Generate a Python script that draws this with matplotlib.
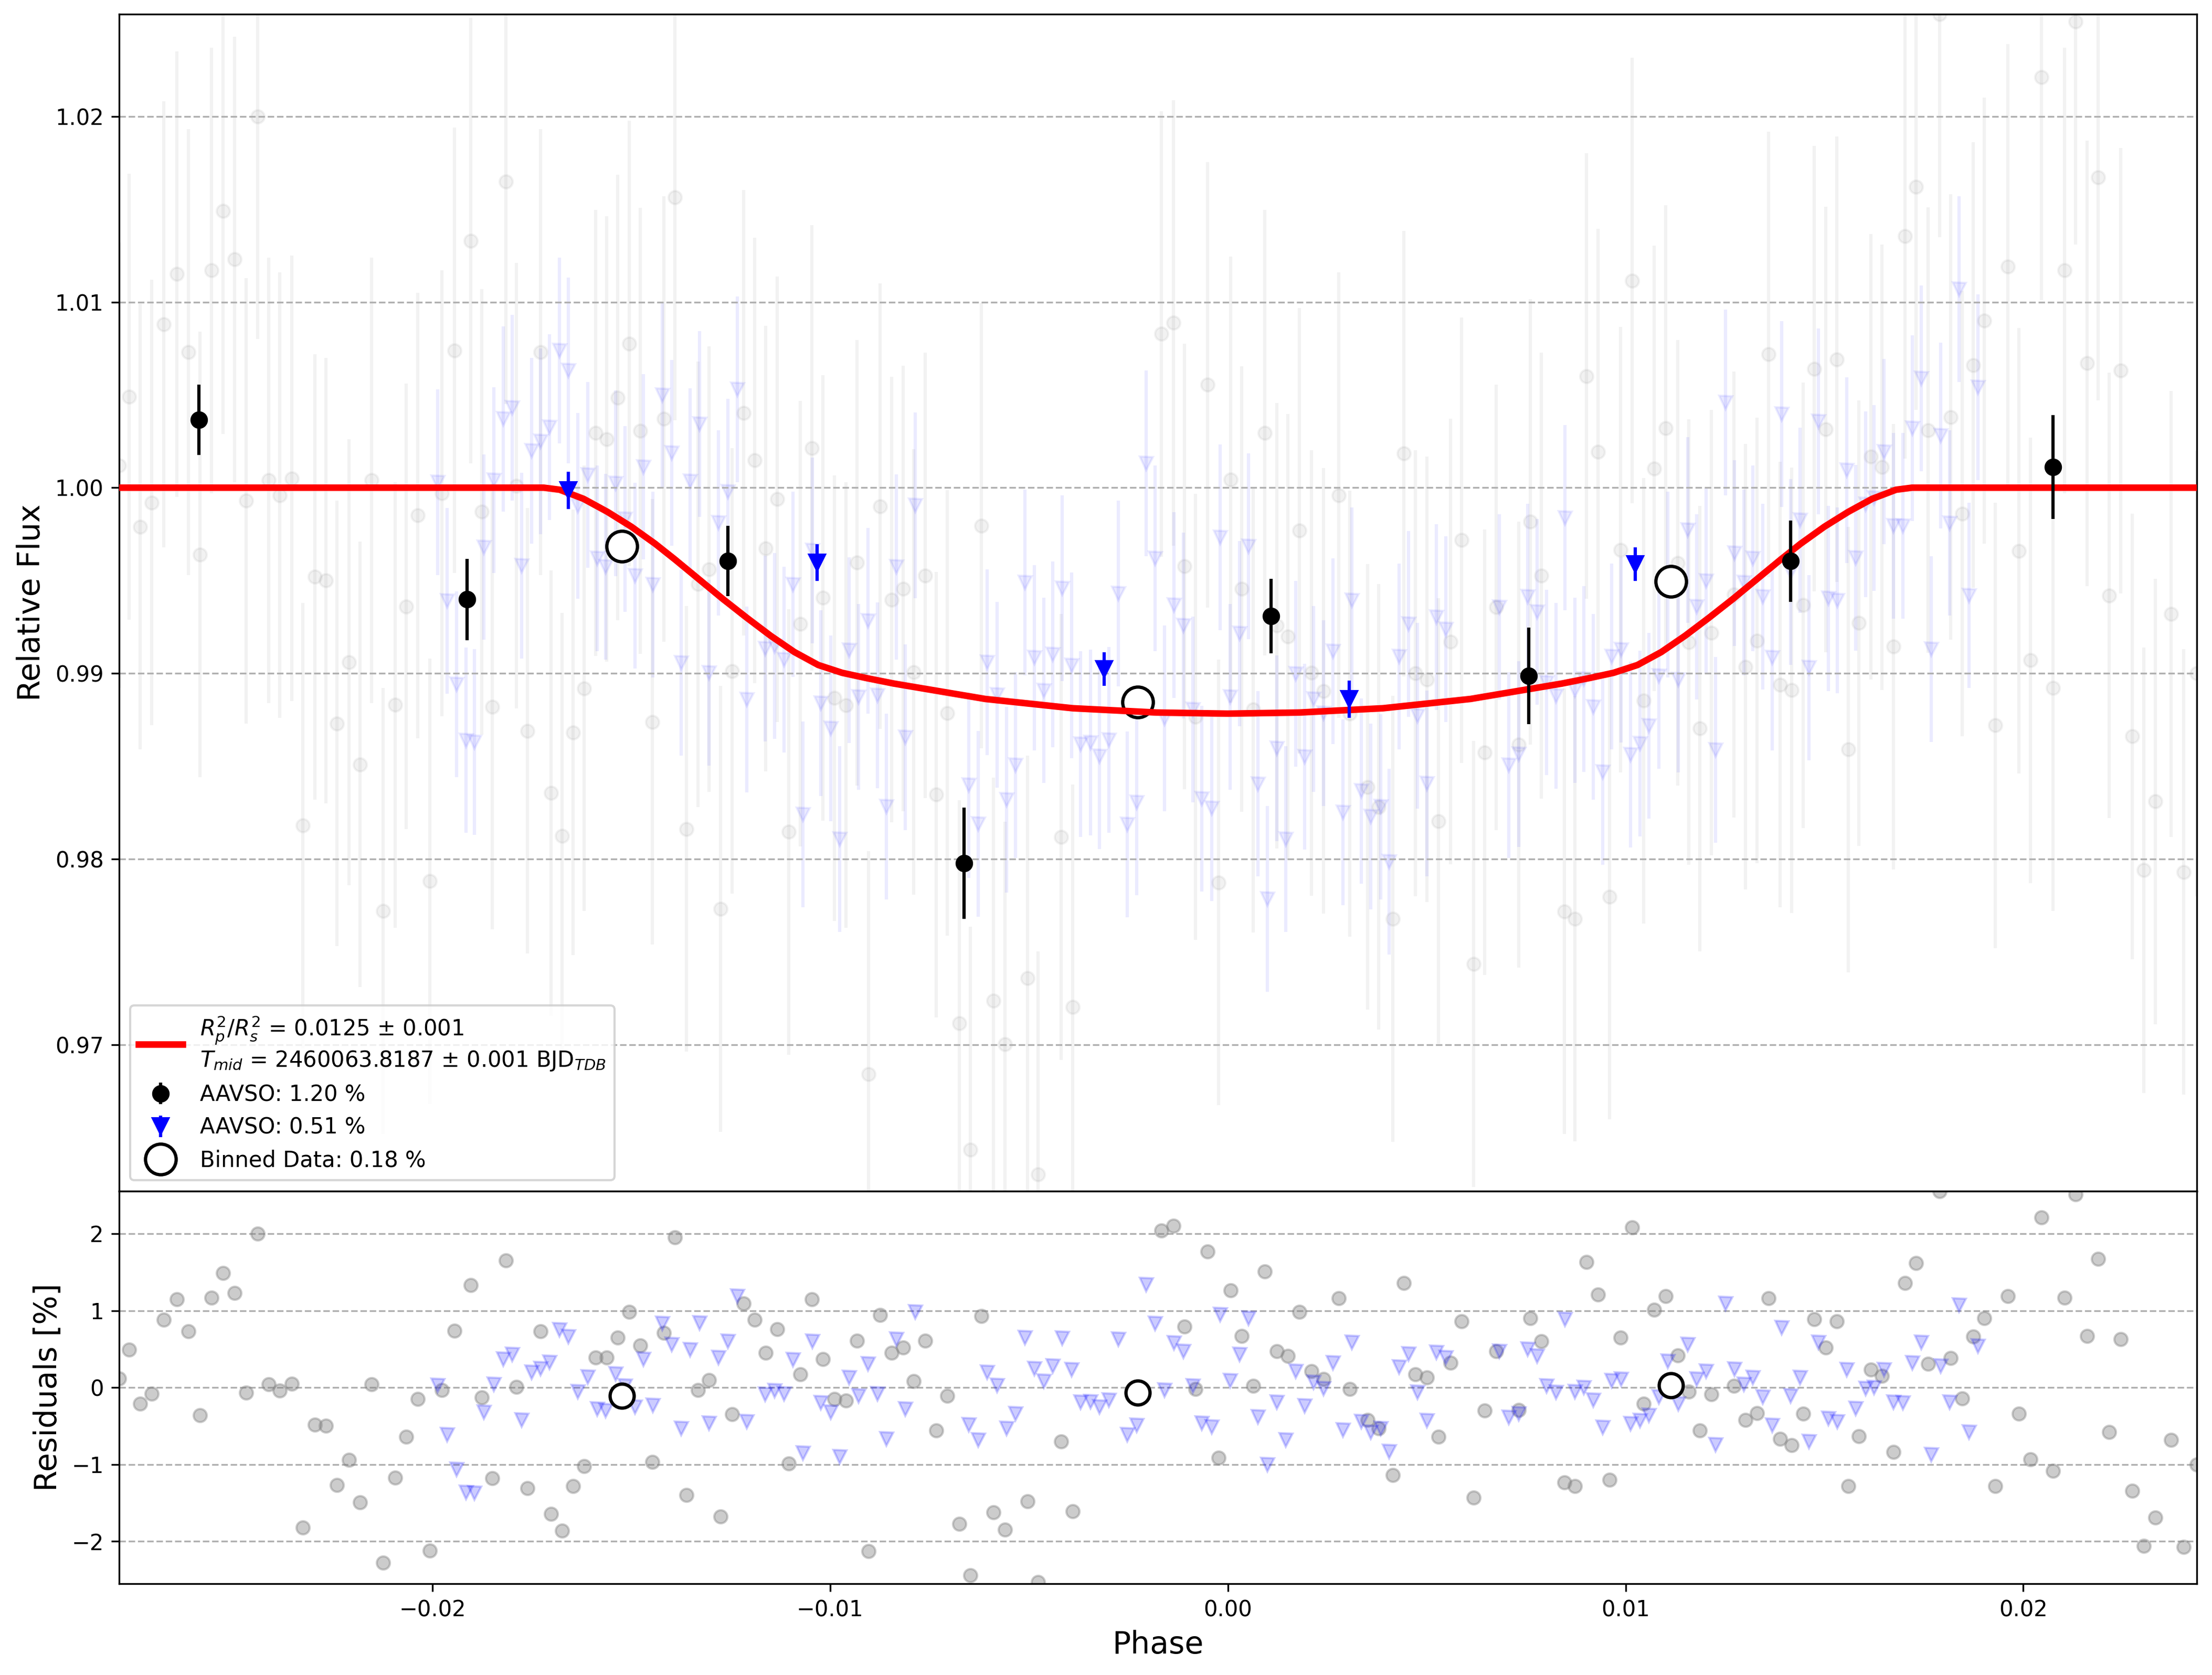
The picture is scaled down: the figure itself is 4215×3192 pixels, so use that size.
import matplotlib
matplotlib.use("Agg")
import matplotlib.pyplot as plt
import numpy as np

# transit model (phase, relative flux)
model_phase = [-0.0300, -0.0172, -0.0168, -0.0162, -0.0156, -0.0150, -0.0144, -0.0139, -0.0133,
               -0.0127, -0.0121, -0.0115, -0.0109, -0.0103, -0.0097, -0.0091, -0.0084,
               -0.0061, -0.0039, -0.0018, 0.0,
               0.0018, 0.0039, 0.0061,
               0.0084, 0.0091, 0.0097, 0.0103, 0.0109, 0.0115, 0.0121, 0.0127, 0.0133,
               0.0139, 0.0144, 0.0150, 0.0156, 0.0162, 0.0168, 0.0172, 0.0300]
model_flux = [1.0, 1.0, 0.99989, 0.99940, 0.99870, 0.99790, 0.99698, 0.99613, 0.99507,
              0.99401, 0.99300, 0.99203, 0.99115, 0.99045, 0.99003, 0.98975, 0.98945,
              0.98862, 0.98812, 0.98789, 0.98783,
              0.98789, 0.98812, 0.98862,
              0.98945, 0.98975, 0.99003, 0.99045, 0.99115, 0.99203, 0.99300, 0.99401, 0.99507,
              0.99613, 0.99698, 0.99790, 0.99870, 0.99940, 0.99989, 1.0, 1.0]

# AAVSO 1.20 % raw points: phase and residual [%]
grey_phase = [
    -0.02788, -0.02763, -0.02735, -0.02706, -0.02676, -0.02643, -0.02613, -0.02584, -0.02555, -0.02527,
    -0.02497, -0.02469, -0.02440, -0.02411, -0.02384, -0.02354, -0.02326, -0.02296, -0.02268, -0.02240,
    -0.02210, -0.02182, -0.02153, -0.02124, -0.02094, -0.02066, -0.02037, -0.02006, -0.01976, -0.01945,
    -0.01903, -0.01876, -0.01849, -0.01815, -0.01789, -0.01761, -0.01728, -0.01702, -0.01674, -0.01647,
    -0.01619, -0.01590, -0.01562, -0.01534, -0.01505, -0.01478,
    -0.01447, -0.01418, -0.01390, -0.01361, -0.01332, -0.01304, -0.01276, -0.01247, -0.01218, -0.01190,
    -0.01162, -0.01133, -0.01104, -0.01075, -0.01046, -0.01018, -0.00989, -0.00960, -0.00933, -0.00904,
    -0.00875, -0.00846, -0.00817, -0.00790, -0.00761, -0.00733, -0.00705, -0.00675, -0.00647, -0.00620,
    -0.00589, -0.00561, -0.00504, -0.00477, -0.00419, -0.00390,
    -0.00167, -0.00137, -0.00109, -0.00081, -0.00051, -0.00023, 0.00007, 0.00035, 0.00064, 0.00093,
    0.00123, 0.00151, 0.00180, 0.00210, 0.00240, 0.00279, 0.00307, 0.00351, 0.00379, 0.00415,
    0.00443, 0.00471, 0.00501, 0.00530, 0.00560, 0.00588, 0.00618, 0.00646, 0.00675, 0.00732,
    0.00761, 0.00788, 0.00846, 0.00873, 0.00901, 0.00930, 0.00959, 0.00987, 0.01016, 0.01045,
    0.01072, 0.01101,
    0.01131, 0.01159, 0.01187, 0.01215, 0.01272, 0.01301, 0.01330, 0.01359, 0.01388, 0.01417,
    0.01446, 0.01474, 0.01503, 0.01531, 0.01560, 0.01587, 0.01617, 0.01645, 0.01674, 0.01702,
    0.01730, 0.01760, 0.01789, 0.01817, 0.01846, 0.01874, 0.01902, 0.01930, 0.01961, 0.01989,
    0.02018, 0.02046, 0.02074, 0.02103, 0.02131, 0.02160, 0.02188, 0.02216, 0.02245, 0.02274,
    0.02303, 0.02332, 0.02371, 0.02403, 0.02436]
grey_resid = [
    0.12, 0.49, -0.21, -0.08, 0.88, 1.15, 0.73, -0.36, 1.17, 1.49,
    1.23, -0.07, 2.00, 0.04, -0.04, 0.05, -1.82, -0.48, -0.50, -1.27,
    -0.94, -1.49, 0.04, -2.28, -1.17, -0.64, -0.15, -2.12, -0.03, 0.74,
    1.33, -0.13, -1.18, 1.65, 0.01, -1.31, 0.73, -1.64, -1.86, -1.28,
    -1.02, 0.39, 0.39, 0.65, 0.98, 0.55,
    -0.97, 0.71, 1.95, -1.40, -0.03, 0.10, -1.68, -0.35, 1.09, 0.88,
    0.45, 0.76, -0.99, 0.17, 1.15, 0.37, -0.15, -0.17, 0.61, -2.13,
    0.94, 0.45, 0.52, 0.08, 0.61, -0.56, -0.11, -1.77, -2.44, 0.93,
    -1.62, -1.85, -1.48, -2.53, -0.70, -1.61,
    2.04, 2.10, 0.79, -0.02, 1.77, -0.91, 1.26, 0.67, 0.02, 1.51,
    0.47, 0.41, 0.98, 0.21, 0.11, 1.16, -0.02, -0.42, -0.53, -1.14,
    1.36, 0.17, 0.13, -0.64, 0.32, 0.86, -1.43, -0.30, 0.47, -0.29,
    0.90, 0.60, -1.23, -1.28, 1.63, 1.21, -1.20, 0.65, 2.08, -0.21,
    1.01, 1.19,
    0.42, -0.05, -0.56, -0.09, 0.02, -0.42, -0.33, 1.16, -0.67, -0.75,
    -0.34, 0.89, 0.52, 0.86, -1.28, -0.63, 0.23, 0.15, -0.84, 1.36,
    1.62, 0.31, 2.55, 0.38, -0.14, 0.66, 0.90, -1.28, 1.19, -0.34,
    -0.93, 2.21, -1.08, 1.17, 2.51, 0.67, 1.67, -0.58, 0.63, -1.34,
    -2.06, -1.69, -0.68, -2.07, -1.00]
grey_err = 0.012

# AAVSO 0.51 % raw points: phase and residual [%]
blue_phase = [
    -0.01987, -0.01963, -0.01939, -0.01915, -0.01894, -0.01870, -0.01846, -0.01822, -0.01800, -0.01775,
    -0.01751, -0.01728, -0.01706, -0.01680, -0.01658, -0.01634, -0.01610, -0.01586, -0.01564, -0.01540,
    -0.01516, -0.01491, -0.01469, -0.01446, -0.01422, -0.01398, -0.01375, -0.01352, -0.01328, -0.01305,
    -0.01281, -0.01257, -0.01234, -0.01210, -0.01163, -0.01140, -0.01116, -0.01093, -0.01069, -0.01045,
    -0.01023, -0.00999, -0.00976, -0.00952, -0.00928, -0.00905, -0.00881, -0.00858, -0.00834, -0.00811,
    -0.00786, -0.00652, -0.00628, -0.00605, -0.00580, -0.00557, -0.00534, -0.00510, -0.00487, -0.00463,
    -0.00440, -0.00417, -0.00393, -0.00370, -0.00346, -0.00323, -0.00299, -0.00276, -0.00253, -0.00229,
    -0.00206, -0.00183, -0.00159, -0.00135, -0.00112, -0.00088, -0.00065, -0.00041, -0.00019, 0.00005,
    0.00029, 0.00052, 0.00076, 0.00099, 0.00123, 0.00146, 0.00170, 0.00193, 0.00216, 0.00241,
    0.00264, 0.00289, 0.00312, 0.00336, 0.00359, 0.00384, 0.00406, 0.00430, 0.00454, 0.00477,
    0.00501, 0.00524, 0.00548, 0.00682, 0.00706, 0.00731, 0.00754, 0.00777, 0.00801, 0.00825,
    0.00848, 0.00872, 0.00895, 0.00919, 0.00942, 0.00965, 0.00989, 0.01013, 0.01036, 0.01059,
    0.01083, 0.01106, 0.01132, 0.01156, 0.01178, 0.01202, 0.01226, 0.01251, 0.01274, 0.01298,
    0.01320, 0.01345, 0.01368, 0.01392, 0.01415, 0.01438, 0.01461, 0.01485, 0.01510, 0.01532,
    0.01556, 0.01579, 0.01603, 0.01625, 0.01650, 0.01674, 0.01697, 0.01721, 0.01744, 0.01768,
    0.01792, 0.01815, 0.01839, 0.01863, 0.01886]
blue_resid = [
    0.03, -0.61, -1.06, -1.36, -1.37, -0.32, 0.04, 0.37, 0.43, -0.42,
    0.20, 0.25, 0.33, 0.75, 0.66, -0.05, 0.14, -0.28, -0.30, 0.18,
    0.02, -0.25, 0.37, -0.23, 0.83, 0.56, -0.53, 0.49, 0.84, -0.46,
    0.39, 0.60, 1.19, -0.44, -0.09, -0.04, -0.08, 0.36, -0.85, 0.60,
    -0.20, -0.32, -0.90, 0.13, -0.11, 0.31, -0.08, -0.67, 0.63, -0.28,
    0.98, -0.48, -0.68, 0.20, 0.03, -0.53, -0.34, 0.65, 0.25, 0.08,
    0.28, 0.64, 0.23, -0.19, -0.18, -0.25, -0.16, 0.63, -0.61, -0.49,
    1.34, 0.83, -0.03, 0.58, 0.47, 0.02, -0.46, -0.51, 0.95, 0.09,
    0.43, 0.90, -0.38, -1.00, -0.19, -0.68, 0.21, -0.24, 0.07, -0.01,
    0.32, -0.55, 0.59, -0.44, -0.58, -0.53, -0.83, 0.27, 0.44, -0.06,
    -0.43, 0.46, 0.39, 0.47, -0.39, -0.34, 0.50, 0.41, 0.02, -0.06,
    0.89, -0.05, 0.00, -0.16, -0.52, 0.09, 0.11, -0.47, -0.43, -0.36,
    -0.12, 0.34, -0.21, 0.56, 0.11, 0.21, -0.74, 1.09, 0.24, 0.04,
    0.13, -0.12, -0.49, 0.78, -0.11, 0.13, -0.70, 0.59, -0.40, -0.44,
    0.23, -0.27, -0.01, 0.00, 0.23, -0.19, -0.20, 0.32, 0.59, -0.87,
    0.28, -0.19, 1.07, -0.58, 0.54]
blue_err = 0.005

# binned points of each dataset
bin1_phase = [-0.02587, -0.01913, -0.01257, -0.00663, 0.00108, 0.00757, 0.01415, 0.02075]
bin1_flux = [1.00366, 0.99398, 0.99605, 0.97977, 0.99308, 0.98986, 0.99604, 1.00112]
bin1_err = [0.0019, 0.0022, 0.0019, 0.0030, 0.0020, 0.0026, 0.0022, 0.0028]

bin2_phase = [-0.01658, -0.01033, -0.00311, 0.00305, 0.01024]
bin2_flux = [0.99986, 0.99597, 0.99023, 0.98861, 0.99588]
bin2_err = [0.0010, 0.0010, 0.0009, 0.0010, 0.0009]

# combined binned data
binall_phase = [-0.01523, -0.00226, 0.01114]
binall_flux = [0.99684, 0.98845, 0.99496]
binall_resid = [-0.11, -0.07, 0.03]

model_label = (r'$R^{2}_{p}/R^{2}_{s}$ = 0.0125 $\pm$ 0.001' + '\n'
               + r'$T_{mid}$ = 2460063.8187 $\pm$ 0.001 BJD$_{TDB}$')

# raw fluxes = model + residuals
grey_flux = np.interp(grey_phase, model_phase, model_flux) + np.array(grey_resid) / 100
blue_flux = np.interp(blue_phase, model_phase, model_flux) + np.array(blue_resid) / 100

fig = plt.figure(figsize=(14.05, 10.64), dpi=300)
gs = fig.add_gridspec(2, 1, height_ratios=[3, 1], hspace=0,
                      left=0.0538, right=0.9931, top=0.9915, bottom=0.0545)
ax = fig.add_subplot(gs[0])
axr = fig.add_subplot(gs[1], sharex=ax)

# top panel
ax.errorbar(grey_phase, grey_flux, yerr=grey_err, fmt='o', color='gray', alpha=0.1, zorder=1)
ax.errorbar(blue_phase, blue_flux, yerr=blue_err, fmt='v', color='blue', alpha=0.08, zorder=1)
ax.plot(model_phase, model_flux, color='red', lw=3, zorder=4, label=model_label)
ax.errorbar(bin1_phase, bin1_flux, yerr=bin1_err, fmt='o', color='black', ms=7, zorder=5,
            label='AAVSO: 1.20 %')
ax.errorbar(bin2_phase, bin2_flux, yerr=bin2_err, fmt='v', color='blue', ms=7, zorder=5,
            label='AAVSO: 0.51 %')
ax.errorbar(binall_phase, binall_flux, fmt='o', ms=14, mfc='white', mec='black', mew=1.5,
            zorder=3, label='Binned Data: 0.18 %')
ax.set_ylim(0.9621, 1.0255)
ax.set_ylabel('Relative Flux', fontsize=14)
ax.grid(True, axis='y', ls='--')
ax.legend(loc='lower left', fontsize=10)
plt.setp(ax.get_xticklabels(), visible=False)

# residual panel
axr.plot(grey_phase, grey_resid, 'o', color='gray', alpha=0.4, zorder=2)
axr.plot(blue_phase, blue_resid, 'v', color='blue', alpha=0.2, zorder=2)
axr.plot(binall_phase, binall_resid, 'o', ms=11, mfc='white', mec='black', mew=1.5, zorder=3)
axr.set_ylim(-2.55, 2.55)
axr.set_xlim(-0.02788, 0.02436)
axr.grid(True, axis='y', ls='--')
axr.set_ylabel('Residuals [%]', fontsize=14)
axr.set_xlabel('Phase', fontsize=14)

fig.savefig('out.png', dpi=300)
